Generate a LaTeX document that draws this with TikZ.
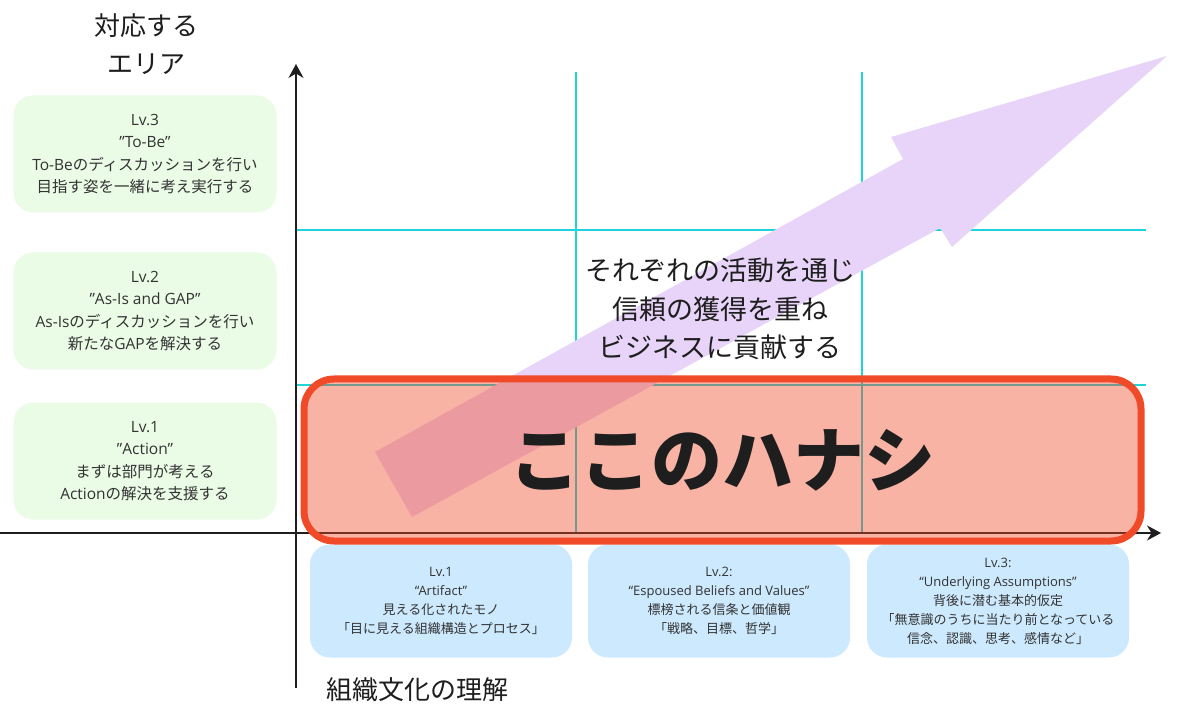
\documentclass[tikz,border=0pt]{standalone}
\usepackage{fontspec}
\setmainfont{Noto Sans CJK JP}
\newfontfamily\latinfont{Open Sans}
\newcommand{\lt}[1]{{\latinfont #1}}
\usetikzlibrary{arrows.meta}
\definecolor{cgreen}{RGB}{234,251,230}
\definecolor{cblue}{RGB}{204,233,253}
\definecolor{cred}{RGB}{240,74,40}
\definecolor{cpurple}{RGB}{232,212,248}
\definecolor{ccyan}{RGB}{31,211,219}
\definecolor{ctext}{RGB}{51,51,51}
\definecolor{cdark}{RGB}{30,30,30}
\tikzset{
  greenbox/.style={fill=cgreen, rounded corners=20pt, minimum width=263pt, minimum height=117pt,
    align=center, inner sep=0pt, text=ctext, font=\fontsize{15.5}{22.5}\selectfont},
  bluebox/.style={fill=cblue, rounded corners=20pt, minimum width=262pt, minimum height=113pt,
    align=center, inner sep=0pt, text=ctext, font=\fontsize{13}{19}\selectfont},
  gridline/.style={draw=ccyan, line width=1.5pt},
  axis/.style={draw=cdark, line width=1.6pt, -{Stealth[length=14pt,width=15pt]}},
  bigtext/.style={text=cdark, align=center, inner sep=0pt},
}
\begin{document}
\begin{tikzpicture}[x=1pt,y=-1pt]
\useasboundingbox (0,0) rectangle (1200,711);
\fill[white] (0,0) rectangle (1200,711);
% grid
\coordinate (g1t) at (576,72); \coordinate (g1b) at (576,533);
\coordinate (g2t) at (862,72); \coordinate (g2b) at (862,533);
\coordinate (h1l) at (296,230); \coordinate (h1r) at (1146,230);
\coordinate (h2l) at (296,385); \coordinate (h2r) at (1146,385);
\draw[gridline] (g1t) -- (g1b);
\draw[gridline] (g2t) -- (g2b);
\draw[gridline] (h1l) -- (h1r);
\draw[gridline] (h2l) -- (h2r);
% big purple arrow
\fill[cpurple] (375,452) -- (903,159) -- (891,137) -- (1167,56) -- (952,247) -- (940,228) -- (412,517) -- cycle;
% middle text
\node[bigtext, font=\fontsize{27}{38.5}\selectfont] (mid) at (720,309) {それぞれの活動を通じ\\信頼の獲得を重ね\\ビジネスに貢献する};
% axes
\coordinate (yb) at (296,688); \coordinate (yt) at (296,64);
\coordinate (xl) at (0,533); \coordinate (xr) at (1161,533);
\draw[axis] (yb) -- (yt);
\draw[axis] (xl) -- (xr);
% titles
\node[bigtext, font=\fontsize{26}{38}\selectfont] (ytitle) at (146,44) {対応する\\エリア};
\node[bigtext, font=\fontsize{26}{30}\selectfont, anchor=west] (xtitle) at (326,690) {組織文化の理解};
% left boxes
\node[greenbox] (l3) at (145,154) {\lt{Lv.3}\\\lt{”To-Be”}\\\lt{To-Be}のディスカッションを行い\\目指す姿を一緒に考え実行する};
\node[greenbox] (l2) at (145,311) {\lt{Lv.2}\\\lt{”As-Is and GAP”}\\\lt{As-Is}のディスカッションを行い\\新たな\lt{GAP}を解決する};
\node[greenbox] (l1) at (145,461) {\lt{Lv.1}\\\lt{”Action”}\\まずは部門が考える\\\lt{Action}の解決を支援する};
% bottom boxes
\node[bluebox] (b1) at (441,601) {\lt{Lv.1}\\\lt{“Artifact”}\\見える化されたモノ\\「目に見える組織構造とプロセス」};
\node[bluebox] (b2) at (719,601) {\lt{Lv.2:}\\\lt{“Espoused Beliefs and Values”}\\標榜される信条と価値観\\「戦略、目標、哲学」};
\node[bluebox] (b3) at (998,601) {\lt{Lv.3:}\\\lt{“Underlying Assumptions”}\\背後に潜む基本的仮定\\「無意識のうちに当たり前となっている\\信念、認識、思考、感情など」};
% focus box
\node[draw=cred, draw opacity=1, line width=7pt, fill=cred, fill opacity=0.42, rounded corners=30pt,
  minimum width=837pt, minimum height=162pt, inner sep=0pt] (focus) at (722.5,460) {};
\node[bigtext, font=\fontsize{71}{71}\bfseries\selectfont] (focustext) at (focus.center) {ここのハナシ};
\end{tikzpicture}
\end{document}
